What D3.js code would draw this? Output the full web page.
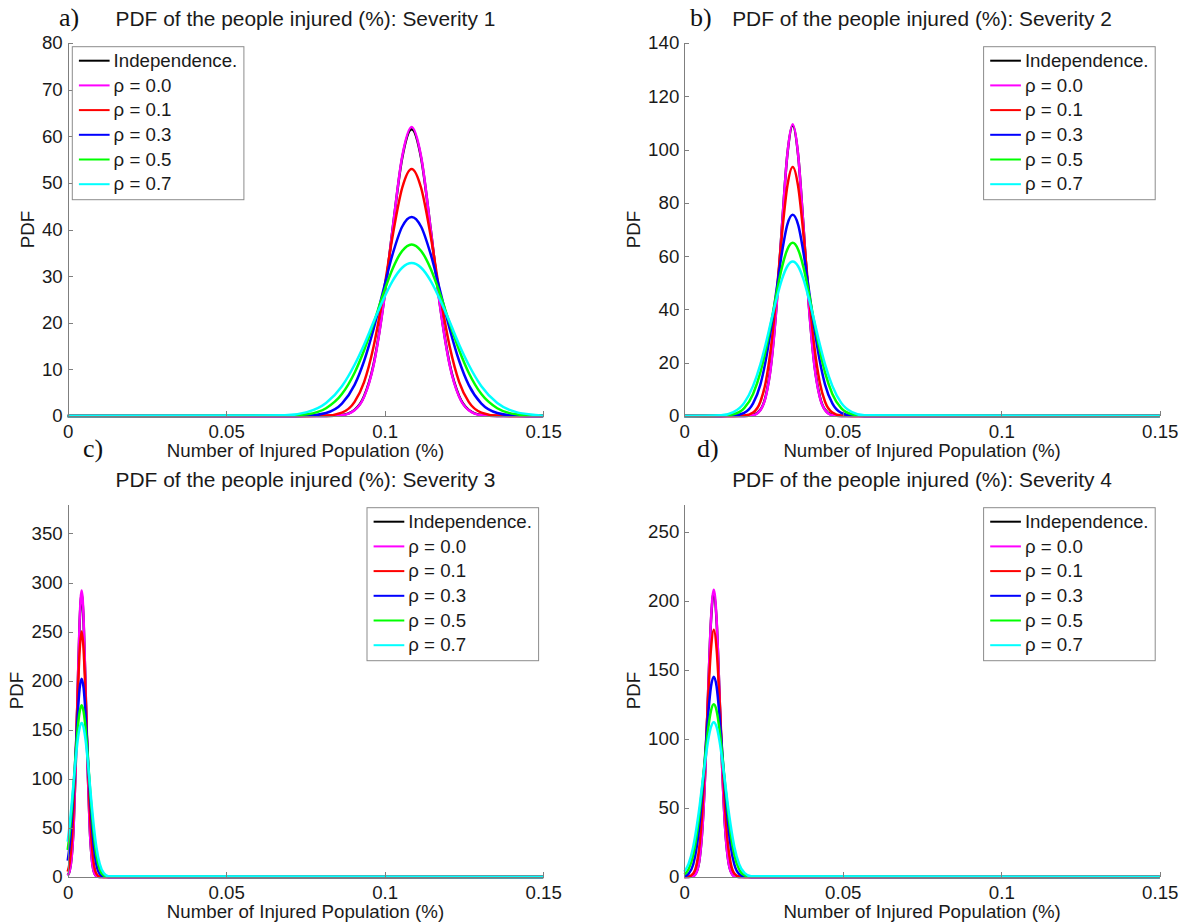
<!DOCTYPE html>
<html lang="en">
<head>
<meta charset="UTF-8">
<title>PDF of the people injured</title>
<script src="https://d3js.org/d3.v7.min.js"></script>
<style>
    body { margin: 0; padding: 0; background: #fff; }
    svg { display: block; font-family: "Liberation Sans", Arial, sans-serif; }
    .axis path, .axis line { stroke: #7f7f7f; stroke-width: 1px; shape-rendering: crispEdges; }
    .axis text { font-size: 18.7px; fill: #1a1a1a; font-family: "Liberation Sans", Arial, sans-serif; }
    .title { font-size: 20.9px; fill: #1a1a1a; }
    .label { font-size: 18.7px; fill: #1a1a1a; }
    .tag { font-family: "Liberation Serif", "Times New Roman", serif; font-size: 26px; fill: #111; }
    .legend text { font-size: 18.7px; fill: #1a1a1a; }
    .curve { fill: none; stroke-width: 2.5px; stroke-linejoin: round; }
</style>
</head>
<body>
<div id="chart"></div>
<script>
    // series names and colours (MATLAB default-ish)
    const seriesNames = ["Independence.", "ρ = 0.0", "ρ = 0.1", "ρ = 0.3", "ρ = 0.5", "ρ = 0.7"];
    const seriesColors = ["#000000", "#ff00ff", "#ff0000", "#0000ff", "#00ff00", "#00ffff"];
    const xTicks = [0, 0.05, 0.1, 0.15];

    // Severity 1
    const sev1X = [0, 0.0685, 0.0755, 0.0815, 0.0865, 0.0905, 0.0935, 0.0965, 0.0995, 0.1025, 0.1055, 0.1085, 0.1115, 0.1145, 0.1175, 0.1205, 0.1235, 0.1265, 0.1305, 0.1355, 0.1415, 0.1485, 0.15];
    const sev1Indep = [0, 0, 0, 0.01, 0.2, 1.31, 4.25, 11.1, 23.5, 40.1, 55.3, 61.5, 55.3, 40.1, 23.5, 11.1, 4.25, 1.31, 0.2, 0.01, 0, 0, 0];
    const sev1R00 = [0, 0, 0, 0.01, 0.18, 1.24, 4.1, 10.9, 23.3, 40.1, 55.6, 62, 55.6, 40.1, 23.3, 10.9, 4.1, 1.24, 0.18, 0.01, 0, 0, 0];
    const sev1R01 = [0, 0, 0, 0.09, 0.74, 3.04, 7.27, 14.9, 25.9, 38.6, 48.9, 53, 48.9, 38.6, 25.9, 14.9, 7.27, 3.04, 0.74, 0.09, 0, 0, 0];
    const sev1R03 = [0, 0, 0.08, 0.66, 2.67, 6.67, 11.8, 18.7, 26.8, 34.7, 40.6, 42.7, 40.6, 34.7, 26.8, 18.7, 11.8, 6.67, 2.67, 0.66, 0.08, 0, 0];
    const sev1R05 = [0, 0.04, 0.36, 1.66, 4.7, 9.28, 14.1, 19.9, 26.1, 31.6, 35.4, 36.8, 35.4, 31.6, 26.1, 19.9, 14.1, 9.28, 4.7, 1.66, 0.36, 0.04, 0];
    const sev1R07 = [0, 0.15, 0.83, 2.79, 6.39, 11.0, 15.3, 20.2, 24.9, 29.0, 31.8, 32.8, 31.8, 29.0, 24.9, 20.2, 15.3, 11.0, 6.39, 2.79, 0.83, 0.15, 0];
    const sev1YTicks = [0, 10, 20, 30, 40, 50, 60, 70, 80];

    // Severity 2
    const sev2X = [0, 0.0116, 0.0155, 0.0189, 0.0217, 0.024, 0.0257, 0.0274, 0.0291, 0.0308, 0.0325, 0.0342, 0.0359, 0.0376, 0.0393, 0.041, 0.0427, 0.0444, 0.0467, 0.0495, 0.0529, 0.0568, 0.15];
    const sev2Indep = [0, 0, 0, 0.02, 0.35, 2.32, 7.53, 19.7, 41.6, 71.1, 98.0, 109, 98.0, 71.1, 41.6, 19.7, 7.53, 2.32, 0.35, 0.02, 0, 0, 0];
    const sev2R00 = [0, 0, 0, 0.02, 0.32, 2.19, 7.24, 19.2, 41.1, 70.8, 98.2, 109.5, 98.2, 70.8, 41.1, 19.2, 7.24, 2.19, 0.32, 0.02, 0, 0, 0];
    const sev2R01 = [0, 0, 0, 0.16, 1.31, 5.36, 12.8, 26.3, 45.7, 68.1, 86.3, 93.5, 86.3, 68.1, 45.7, 26.3, 12.8, 5.36, 1.31, 0.16, 0, 0, 0];
    const sev2R03 = [0, 0, 0.14, 1.17, 4.72, 11.8, 20.9, 33.1, 47.4, 61.3, 71.8, 75.5, 71.8, 61.3, 47.4, 33.1, 20.9, 11.8, 4.72, 1.17, 0.14, 0, 0];
    const sev2R05 = [0, 0.07, 0.64, 2.93, 8.3, 16.4, 24.9, 35.1, 46.1, 55.8, 62.5, 65, 62.5, 55.8, 46.1, 35.1, 24.9, 16.4, 8.3, 2.93, 0.64, 0.07, 0];
    const sev2R07 = [0, 0.27, 1.47, 4.93, 11.3, 19.4, 27.1, 35.7, 44.0, 51.3, 56.2, 58, 56.2, 51.3, 44.0, 35.7, 27.1, 19.4, 11.3, 4.93, 1.47, 0.27, 0];
    const sev2YTicks = [0, 20, 40, 60, 80, 100, 120, 140];

    // Severity 3
    const sev3X = [0, 0.0006, 0.00123, 0.00187, 0.0025, 0.00313, 0.00377, 0.0044, 0.00503, 0.00567, 0.0063, 0.00693, 0.00757, 0.0082, 0.00904, 0.0101, 0.01136, 0.01284, 0.15];
    const sev3Indep = [1.64, 6.13, 19.9, 52.0, 110, 187.8, 259, 288, 259, 187.8, 110, 52.0, 19.9, 6.13, 0.94, 0.05, 0, 0, 0];
    const sev3R00 = [1.53, 5.84, 19.3, 51.3, 109.7, 188.9, 261.9, 292, 261.9, 188.9, 109.7, 51.3, 19.3, 5.84, 0.85, 0.05, 0, 0, 0];
    const sev3R01 = [5.4, 14.3, 34.3, 70.3, 122.2, 182.1, 230.7, 250, 230.7, 182.1, 122.2, 70.3, 34.3, 14.3, 3.49, 0.42, 0, 0, 0];
    const sev3R03 = [16.7, 31.6, 55.8, 88.5, 126.8, 164.2, 192.1, 202, 192.1, 164.2, 126.8, 88.5, 55.8, 31.6, 12.6, 3.12, 0.38, 0, 0];
    const sev3R05 = [27.5, 44.1, 67.0, 94.6, 124.1, 150.3, 168.3, 175, 168.3, 150.3, 124.1, 94.6, 67.0, 44.1, 22.3, 7.89, 1.71, 0.19, 0];
    const sev3R07 = [36.1, 52.7, 73.2, 96.7, 119.2, 138.8, 152.2, 157, 152.2, 138.8, 119.2, 96.7, 73.2, 52.7, 30.6, 13.4, 3.97, 0.72, 0];
    const sev3YTicks = [0, 50, 100, 150, 200, 250, 300, 350];

    // Severity 4
    const sev4X = [0, 0.00134, 0.00281, 0.00399, 0.00488, 0.00576, 0.00665, 0.00753, 0.00842, 0.0093, 0.01019, 0.01107, 0.01196, 0.01284, 0.01373, 0.01461, 0.01579, 0.01727, 0.01904, 0.0211, 0.15];
    const sev4Indep = [0, 0.03, 0.67, 4.39, 14.2, 37.2, 78.7, 134.3, 185.3, 206, 185.3, 134.3, 78.7, 37.2, 14.2, 4.39, 0.67, 0.03, 0, 0, 0];
    const sev4R00 = [0, 0.03, 0.6, 4.16, 13.8, 36.6, 78.2, 134.5, 186.5, 208, 186.5, 134.5, 78.2, 36.6, 13.8, 4.16, 0.6, 0.03, 0, 0, 0];
    const sev4R01 = [0.03, 0.3, 2.5, 10.3, 24.6, 50.3, 87.5, 130.4, 165.1, 179, 165.1, 130.4, 87.5, 50.3, 24.6, 10.3, 2.5, 0.3, 0, 0, 0];
    const sev4R03 = [0.49, 2.24, 9.07, 22.7, 40.1, 63.5, 91.0, 117.8, 137.9, 145, 137.9, 117.8, 91.0, 63.5, 40.1, 22.7, 9.07, 2.24, 0.27, 0, 0];
    const sev4R05 = [1.82, 5.64, 16.0, 31.5, 47.9, 67.6, 88.7, 107.3, 120.3, 125, 120.3, 107.3, 88.7, 67.6, 47.9, 31.5, 16.0, 5.64, 1.22, 0.14, 0];
    const sev4R07 = [3.89, 9.53, 21.8, 37.6, 52.2, 69.0, 85.0, 99.0, 108.6, 112, 108.6, 99.0, 85.0, 69.0, 52.2, 37.6, 21.8, 9.53, 2.83, 0.51, 0];
    const sev4YTicks = [0, 50, 100, 150, 200, 250];

    const W = 1185, H = 924;
    const plotW = 475.5, plotH = 373;

    // layout of the four sub-plots
    const panels = [
        { tag: "a)", tagX: 59, severity: 1, left: 67.7, top: 43, yMax: 80, yTicks: sev1YTicks, ylabOff: 40,
          xs: sev1X, ys: [sev1Indep, sev1R00, sev1R01, sev1R03, sev1R05, sev1R07], legendLeft: true },
        { tag: "b)", tagX: 690, severity: 2, left: 684.3, top: 43, yMax: 140, yTicks: sev2YTicks, ylabOff: 51,
          xs: sev2X, ys: [sev2Indep, sev2R00, sev2R01, sev2R03, sev2R05, sev2R07], legendLeft: false },
        { tag: "c)", tagX: 83, severity: 3, left: 67.7, top: 504, yMax: 380, yTicks: sev3YTicks, ylabOff: 51,
          xs: sev3X, ys: [sev3Indep, sev3R00, sev3R01, sev3R03, sev3R05, sev3R07], legendLeft: false },
        { tag: "d)", tagX: 697, severity: 4, left: 684.3, top: 504, yMax: 270, yTicks: sev4YTicks, ylabOff: 51,
          xs: sev4X, ys: [sev4Indep, sev4R00, sev4R01, sev4R03, sev4R05, sev4R07], legendLeft: false }
    ];

    const svg = d3.select("#chart").append("svg")
        .attr("width", W)
        .attr("height", H);

    svg.append("rect").attr("width", W).attr("height", H).attr("fill", "#fff");

    panels.forEach((p, pi) => {
        const g = svg.append("g").attr("transform", `translate(${p.left},${p.top})`);

        const x = d3.scaleLinear().domain([0, 0.15]).range([0, plotW]);
        const y = d3.scaleLinear().domain([0, p.yMax]).range([plotH, 0]);

        // curves
        const line = d3.line()
            .x(d => x(d[0]))
            .y(d => y(d[1]))
            .curve(d3.curveMonotoneX);

        p.ys.forEach((vals, si) => {
            g.append("path")
                .attr("class", "curve")
                .attr("stroke", seriesColors[si])
                .attr("d", line(p.xs.map((xv, i) => [xv, vals[i]])));
        });

        // axes (inward ticks, no box)
        g.append("g")
            .attr("class", "axis")
            .attr("transform", `translate(0,${plotH})`)
            .call(d3.axisBottom(x).tickValues(xTicks).tickFormat(d => String(d))
                .tickSizeInner(-5).tickSizeOuter(0).tickPadding(9));

        g.append("g")
            .attr("class", "axis")
            .call(d3.axisLeft(y).tickValues(p.yTicks)
                .tickSizeInner(-5).tickSizeOuter(0).tickPadding(5));

        // labels
        g.append("text")
            .attr("class", "label")
            .attr("x", plotW / 2)
            .attr("y", plotH + 41)
            .attr("text-anchor", "middle")
            .text("Number of Injured Population (%)");

        g.append("text")
            .attr("class", "label")
            .attr("transform", `translate(${-p.ylabOff},${plotH / 2}) rotate(-90)`)
            .attr("dy", "0.35em")
            .attr("text-anchor", "middle")
            .text("PDF");

        g.append("text")
            .attr("class", "title")
            .attr("x", plotW / 2)
            .attr("y", -17)
            .attr("text-anchor", "middle")
            .text(`PDF of the people injured (%): Severity ${p.severity}`);

        // panel letter (a), b) ...) sits at figure level
        const tagY = pi < 2 ? 26 : 457;
        svg.append("text")
            .attr("class", "tag")
            .attr("x", p.tagX)
            .attr("y", tagY)
            .text(p.tag);

        // legend
        const legW = 171.6, legH = 153;
        const lx = p.legendLeft ? 4.6 : plotW - 4.6 - legW;
        const lg = g.append("g").attr("class", "legend").attr("transform", `translate(${lx},3.7)`);
        lg.append("rect")
            .attr("width", legW).attr("height", legH)
            .attr("fill", "#fff").attr("stroke", "#8c8c8c").attr("stroke-width", 1);

        seriesNames.forEach((name, si) => {
            const cy = 14 + si * 24.7;
            lg.append("line")
                .attr("x1", 6.6).attr("x2", 37.3)
                .attr("y1", cy).attr("y2", cy)
                .attr("stroke", seriesColors[si]).attr("stroke-width", 2);
            lg.append("text")
                .attr("x", 41.3)
                .attr("y", cy + 6.3)
                .text(name);
        });
    });
</script>
</body>
</html>
